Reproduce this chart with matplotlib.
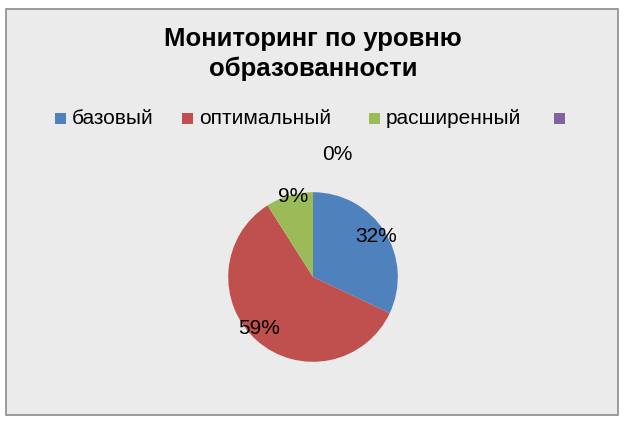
import matplotlib
matplotlib.use("Agg")
import matplotlib.pyplot as plt
from matplotlib.patches import Rectangle

plt.rcParams['font.family'] = ['Liberation Sans', 'DejaVu Sans']

categories = ["базовый", "оптимальный", "расширенный", ""]
shares = [32, 59, 9, 0]
labels = ["32%", "59%", "9%", "0%"]
colors = ["#4f81bd", "#c0504d", "#9bbb59", "#8064a2"]
title = "Мониторинг по уровню\nобразованности"

W, H = 627, 421
fig = plt.figure(figsize=(W / 100, H / 100), dpi=100)
fig.patch.set_facecolor("white")
fig.add_artist(Rectangle((6 / W, 6 / H), 612 / W, 406 / H, transform=fig.transFigure,
                         fc="#ebebeb", ec="#8c8c8c", lw=1.2, zorder=-5))

fig.text(313 / W, 1 - 54 / H, title, ha="center", va="center", fontsize=18.5,
         weight="bold", linespacing=1.3)

# legend
lx = [55, 182, 369, 554]
for x, c, t in zip(lx, colors, categories):
    fig.add_artist(Rectangle((x / W, 1 - 124 / H), 11 / W, 11 / H, transform=fig.transFigure,
                             fc=c, ec="none"))
    fig.text((x + 17) / W, 1 - 118 / H, t, ha="left", va="center", fontsize=15)

cx, cy, r = 313, 277, 106
ax = fig.add_axes([(cx - r) / W, (H - cy - r) / H, 2 * r / W, 2 * r / H])
ax.patch.set_visible(False)
ax.pie(shares, colors=colors, startangle=90, counterclock=False,
       wedgeprops=dict(linewidth=0))
ax.set_aspect("equal")

pos = [(376, 237), (259, 328), (293, 197), (337, 155)]
for (x, y), t in zip(pos, labels):
    fig.text(x / W, 1 - y / H, t, ha="center", va="center", fontsize=15, zorder=5)

fig.savefig("out.png", dpi=100)
